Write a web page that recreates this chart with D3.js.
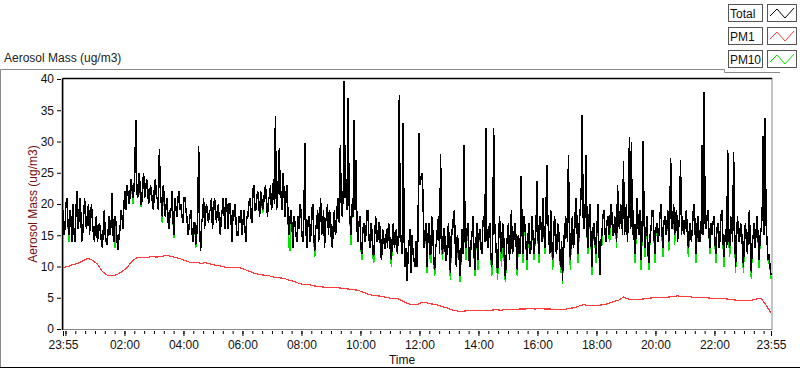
<!DOCTYPE html>
<html>
<head>
<meta charset="utf-8">
<script src="https://cdn.jsdelivr.net/npm/d3@7"></script>
<style>
  body { margin: 0; background: #fff; }
  svg { display: block; font-family: "Liberation Sans", Arial, sans-serif; }
</style>
</head>
<body>
<svg id="chart" width="800" height="369"></svg>
<script>
// minutes since 23:55: one value every 2 min for Total / PM10, every 10 min for PM1
const stepTotal = 2;
const stepPM1 = 10;

// one row per hour (30 values)
const totalValues = [
  19, 15, 16, 20, 21, 17, 15, 19, 18, 14, 20, 16, 14, 18, 22, 16, 17, 21, 19, 14, 15, 18, 21, 17, 16, 19, 20, 15, 18, 20,
  17, 15, 14, 17, 18, 14, 15, 17, 16, 14, 13, 16, 19, 15, 14, 13.5, 16, 18, 15, 17, 21.7, 15, 14, 18, 17, 14, 12.6, 15, 16, 19,
  18, 16, 20, 22, 19, 23, 22, 20, 21, 24, 23, 21, 22, 25, 33.5, 22, 21, 25, 24, 20, 20, 23, 25, 21, 22, 24, 23, 20, 21, 23,
  22, 20, 19, 23, 24, 21, 21, 19, 28.8, 22, 20, 18, 23, 21, 18, 20, 21, 17, 16, 19, 19, 22, 17, 15, 21, 19, 18, 21, 22, 19,
  20, 18, 17, 21, 21, 19, 18, 15, 16, 18, 19, 16, 14, 17, 17, 13.5, 15, 18, 29.3, 16, 12.5, 17, 18, 21, 16, 19, 20, 18, 17, 19,
  19, 21, 16, 18, 21, 20, 17, 19, 20, 17, 15, 18, 19, 21, 18, 16, 21, 19, 16, 20, 20, 17, 14, 19, 18, 20, 17, 15, 15, 18,
  17, 19, 15, 17, 19, 16, 14, 18, 18, 20, 21, 18, 17, 22, 23, 19, 19, 21, 22, 20, 18, 22, 21, 19, 20, 22, 23, 20, 18, 21,
  21, 23, 19, 20, 24, 20, 34, 19, 20, 24, 29, 21, 22, 19, 25, 21, 18, 22, 23, 17, 15, 18, 19, 16, 13, 18, 17, 15, 14, 18,
  16, 20, 19, 15, 14, 18, 29.8, 16, 13, 17, 18, 14, 15, 19, 20, 15, 12.5, 16, 17, 19, 14, 17, 21, 15, 16, 19, 13, 17, 18, 20,
  15, 19, 18, 14, 13, 17, 19, 15, 16, 20, 21, 17, 29.5, 20, 18, 22, 39.7, 21, 24, 19, 37, 20, 17, 15, 20, 18, 33.4, 19, 27, 16,
  14, 17, 18, 13, 12, 16, 17, 14, 15, 19, 19, 15, 13, 17, 16, 12, 11.7, 15, 18, 14, 14, 17, 17, 12, 11, 16, 15, 13, 13, 16,
  13, 17, 16, 12, 11, 15, 17, 13, 14, 16, 12, 15, 37.5, 14, 15, 12, 33, 14, 10, 13, 7.7, 12, 14, 16, 9, 15, 12, 11, 10, 14,
  10, 15, 31.4, 23, 24, 25, 22, 13, 15, 17, 10, 14, 17, 12, 12, 18, 16, 11, 9.5, 13, 14, 17, 18, 12, 28, 14, 12, 16, 16, 11,
  11, 14, 17, 12, 9, 16, 15, 18, 19, 13, 10, 15, 14, 11, 8.5, 13, 16, 12, 29.4, 14, 13, 16, 17, 11, 10, 14, 15, 18, 12, 9.5,
  14, 17, 11, 15, 16, 13, 12, 17, 18, 14, 32.2, 15, 13, 16, 17, 12, 10, 14, 32.2, 17, 14, 11, 9, 15, 18, 13, 12, 17, 16, 10,
  8, 13, 15, 17, 11, 14, 19, 12, 13, 16, 17, 13, 9.5, 15, 14, 12, 24.5, 15, 12, 18, 16, 13, 11, 15, 17, 12, 13, 18, 15, 12,
  14, 16, 23.6, 15, 12, 18, 17, 14, 21, 16, 13, 17, 26.2, 18, 15, 12, 19, 14, 11, 16, 18, 13, 12, 17, 16, 13, 10, 14, 7.7, 15,
  13, 18, 17, 14, 27.8, 15, 11, 16, 18, 13, 14, 19, 21, 15, 12, 17, 19, 22, 34.3, 18, 16, 19, 27.8, 15, 13, 18, 20, 14, 10, 16,
  17, 14, 12, 16, 20, 13, 8.6, 14, 15, 18, 19, 16, 14, 17, 18, 15, 16, 20, 19, 15, 15, 18, 17, 14, 23, 17, 16, 20, 19, 15,
  26.9, 15, 17, 20, 14, 18, 30.7, 16, 29.9, 15, 19, 14, 12, 17, 21, 16, 15, 19, 11, 16, 30, 17, 13, 16, 18, 12, 10.5, 15, 16, 19,
  19, 15, 12, 16, 17, 14, 15, 18, 20, 16, 13, 17, 18, 15, 16, 19, 14, 17, 27.4, 16, 17, 20, 15, 18, 19, 14, 16, 18, 27, 15,
  18, 16, 15, 18, 19, 15, 13, 16, 17, 14, 16, 19, 20, 15, 12, 17, 18, 14, 14, 16, 29.4, 15, 37.9, 17, 16, 18, 19, 15, 13, 17,
  15, 17, 18, 14, 12, 16, 17, 13, 14, 18, 19, 15, 11.5, 14, 16, 13, 28.6, 15, 13, 18, 17, 14, 28.3, 16, 10, 15, 18, 14, 14, 17,
  16, 13, 10, 15, 17, 14, 12, 16, 19, 13, 9, 14, 15, 17, 13, 16, 18, 14, 11, 15, 16, 18, 30.9, 15, 33.8, 17, 14, 11, 12, 10,
  8.6
];

const pm10Values = [
  19, 15, 16, 20, 21, 17, 14, 19, 18, 14, 20, 16, 14, 18, 22, 16, 17, 21, 19, 14, 15, 18, 21, 17, 16, 19, 20, 15, 18, 20,
  17, 15, 14, 17, 18, 14, 15, 17, 16, 14, 13, 16, 19, 15, 14, 13.5, 16, 18, 15, 17, 21.7, 15, 14, 13, 17, 14, 12.6, 15, 16, 19,
  18, 16, 20, 22, 19, 23, 22, 20, 21, 24, 23, 20, 22, 25, 33.5, 22, 21, 25, 24, 19.5, 20, 23, 25, 21, 22, 24, 23, 20, 21, 23,
  22, 20, 19, 23, 24, 21, 21, 19, 28.8, 22, 20, 17, 23, 21, 18, 20, 21, 17, 16, 19, 19, 22, 17, 14.5, 21, 19, 18, 21, 22, 19,
  20, 18, 17, 21, 21, 19, 18, 15, 16, 18, 19, 16, 14, 17, 17, 13, 15, 18, 29.3, 16, 12.5, 17, 18, 21, 16, 19, 20, 18, 17, 19,
  19, 21, 16, 18, 21, 20, 17, 19, 20, 17, 15, 18, 19, 21, 18, 16, 21, 19, 16, 20, 20, 17, 14, 19, 18, 20, 17, 15, 15, 18,
  17, 19, 15, 17, 19, 16, 14, 18, 18, 20, 21, 18, 17, 22, 23, 19, 19, 21, 22, 20, 18, 22, 21, 18.5, 20, 22, 23, 20, 18, 21,
  21, 23, 19, 20, 24, 20, 34, 19, 20, 24, 29, 21, 22, 19, 25, 21, 18, 22, 23, 17, 13, 12.5, 19, 16, 13, 18, 17, 15, 14, 18,
  16, 20, 19, 15, 14, 18, 29.8, 16, 13, 17, 18, 14, 15, 19, 20, 15, 11.5, 16, 17, 19, 14, 17, 21, 15, 16, 19, 13, 17, 18, 20,
  15, 19, 18, 14, 13, 17, 19, 15, 16, 20, 21, 17, 29.5, 20, 18, 22, 39.7, 21, 24, 19, 37, 20, 17, 13.5, 20, 18, 33.4, 19, 27, 16,
  14, 17, 18, 13, 11, 16, 17, 14, 15, 19, 19, 15, 13, 17, 16, 12, 10.5, 15, 18, 14, 14, 17, 17, 12, 11, 16, 15, 13, 13, 16,
  13, 17, 16, 12, 10, 15, 17, 13, 14, 16, 12, 15, 37.5, 14, 15, 12, 33, 14, 10, 11.5, 7.7, 12, 14, 16, 9, 15, 12, 11, 10, 14,
  10, 15, 31.4, 23, 24, 25, 22, 13, 15, 17, 9, 14, 17, 12, 10.5, 18, 16, 11, 8.5, 13, 14, 17, 18, 12, 28, 14, 11, 16, 16, 11,
  11, 14, 17, 12, 7.8, 16, 15, 18, 19, 13, 10, 13, 14, 11, 7.5, 13, 16, 12, 29.4, 14, 11, 16, 17, 11, 10, 14, 15, 18, 12, 8.5,
  14, 17, 9.5, 15, 16, 13, 12, 17, 18, 14, 32.2, 15, 13, 16, 17, 12, 8.5, 14, 32.2, 17, 14, 11, 7.8, 15, 18, 13, 10, 17, 16, 9,
  7.5, 13, 15, 17, 11, 14, 19, 12, 13, 16, 17, 13, 8.5, 15, 14, 12, 24.5, 15, 10.5, 18, 16, 13, 9.5, 15, 17, 12, 13, 18, 15, 11,
  14, 16, 23.6, 15, 10.5, 18, 17, 14, 21, 16, 12, 17, 26.2, 18, 15, 12, 19, 14, 9.5, 16, 18, 13, 12, 17, 16, 13, 9, 14, 7.2, 15,
  13, 18, 17, 14, 27.8, 15, 9.5, 16, 18, 13, 14, 19, 21, 15, 10.5, 17, 19, 22, 34.3, 18, 16, 19, 27.8, 15, 12, 18, 20, 14, 8.6, 16,
  17, 14, 10.5, 16, 20, 13, 8.6, 14, 13.5, 18, 19, 16, 14, 17, 18, 15, 14, 20, 19, 15, 15, 18, 17, 13, 23, 17, 16, 20, 19, 15,
  26.9, 15, 17, 20, 14, 18, 30.7, 16, 29.9, 15, 19, 14, 10.5, 17, 21, 16, 15, 19, 9.5, 16, 30, 17, 11.5, 16, 18, 12, 9.5, 15, 16, 19,
  19, 15, 10.5, 16, 17, 14, 15, 18, 20, 16, 11.5, 17, 18, 15, 16, 19, 12.5, 17, 27.4, 16, 17, 20, 13.5, 18, 19, 14, 16, 18, 27, 15,
  18, 16, 15, 18, 19, 15, 11.5, 16, 17, 14, 16, 19, 20, 15, 10.5, 17, 18, 14, 14, 16, 29.4, 15, 37.9, 17, 16, 18, 19, 15, 12, 17,
  15, 17, 18, 14, 10.5, 16, 17, 13, 14, 18, 19, 15, 10, 14, 16, 13, 28.6, 15, 11.5, 18, 17, 14, 28.3, 16, 9, 15, 18, 14, 14, 17,
  16, 13, 9, 15, 17, 14, 12, 16, 19, 13, 8, 14, 15, 17, 13, 16, 18, 14, 9.8, 15, 16, 18, 30.9, 15, 33.8, 17, 14, 11, 10.5, 10,
  8
];

const pm1Values = [
  9.8, 10.0, 10.3, 10.5, 10.9, 11.3, 11.0, 10.4, 9.2, 8.6, 8.5, 8.7,
  9.2, 9.8, 10.8, 11.4, 11.5, 11.4, 11.6, 11.5, 11.6, 11.8, 11.6, 11.4,
  11.2, 10.9, 10.6, 10.7, 10.5, 10.6, 10.4, 10.2, 10.1, 9.9, 9.8, 9.9,
  9.8, 9.5, 9.2, 8.9, 8.7, 8.6, 8.5, 8.3, 8.2, 8.1, 7.8, 7.6,
  7.3, 7.1, 7.1, 6.9, 6.8, 6.7, 6.7, 6.6, 6.6, 6.5, 6.4, 6.3,
  6.2, 5.9, 5.6, 5.4, 5.3, 5.2, 5.0, 4.9, 4.9, 4.5, 4.1, 3.9,
  3.9, 4.3, 4.2, 4.0, 3.9, 3.6, 3.4, 3.1, 2.9, 2.8, 2.9, 2.9,
  2.9, 2.9, 3.0, 3.0, 3.1, 3.0, 3.1, 3.1, 3.1, 3.2, 3.2, 3.3,
  3.2, 3.3, 3.2, 3.2, 3.1, 3.1, 3.1, 3.3, 3.4, 3.7, 3.9, 3.7,
  3.7, 3.8, 3.9, 4.1, 4.4, 4.6, 5.1, 4.8, 4.7, 4.7, 4.8, 4.9,
  5.0, 5.0, 5.1, 5.1, 5.2, 5.3, 5.2, 5.2, 5.1, 5.0, 5.0, 5.0,
  4.9, 4.9, 4.9, 4.8, 4.7, 4.6, 4.5, 4.5, 4.6, 4.8, 4.9, 3.8,
  2.6
];

// axis ticks (minutes since 23:55)
const xTickMinutes = [0, 125, 245, 365, 485, 605, 725, 845, 965, 1085, 1205, 1325, 1440];
const xTickLabels = ["23:55", "02:00", "04:00", "06:00", "08:00", "10:00", "12:00",
                     "14:00", "16:00", "18:00", "20:00", "22:00", "23:55"];
const yTicks = [0, 5, 10, 15, 20, 25, 30, 35, 40];

const seriesNames = ["Total", "PM1", "PM10"];
const seriesColors = ["#000000", "#ff3c3c", "#00e400"];

// --- layout ---
const svg = d3.select("#chart");
const plot = { left: 63, right: 772, top: 78.5, bottom: 329.5 };

const x = d3.scaleLinear().domain([0, 1440]).range([63, 771]);
const y = d3.scaleLinear().domain([0, 40]).range([329, 79]);

// outer frame
svg.append("path")
  .attr("d", "M0.5,367 V69.5 H724.5 V72.5 H780")
  .attr("fill", "none").attr("stroke", "#8a8a8a");
svg.append("line").attr("x1", 0).attr("x2", 800).attr("y1", 367.5).attr("y2", 367.5)
  .attr("stroke", "#000");

svg.append("text").attr("x", 4).attr("y", 62)
  .style("font-size", "12px").style("fill", "#222")
  .text("Aerosol Mass (ug/m3)");

// plot box
svg.append("rect")
  .attr("x", plot.left).attr("y", plot.top)
  .attr("width", plot.right - plot.left).attr("height", plot.bottom - plot.top)
  .attr("fill", "#fff").attr("stroke", "#8a8a8a");
svg.append("line").attr("x1", plot.left - 0.5).attr("x2", plot.right)
  .attr("y1", plot.top).attr("y2", plot.top).attr("stroke", "#000").attr("stroke-width", 1.5);
svg.append("line").attr("x1", plot.left - 0.5).attr("x2", plot.left - 0.5)
  .attr("y1", plot.top).attr("y2", plot.bottom + 0.5).attr("stroke", "#000").attr("stroke-width", 1.5);

// y axis
const yAxis = svg.append("g")
  .attr("transform", "translate(61,0)")
  .call(d3.axisLeft(y).tickValues(yTicks).tickSize(4).tickPadding(3));
yAxis.select(".domain").remove();
yAxis.selectAll("text").style("font-size", "12px").style("fill", "#111")
  .style("font-family", "Liberation Sans, Arial, sans-serif");

svg.append("text")
  .attr("transform", "translate(37,204) rotate(-90)")
  .attr("text-anchor", "middle")
  .style("font-size", "12px").style("fill", "#7a1010")
  .text("Aerosol Mass (ug/m3)");

// x axis: minor ticks every 20 min from 00:00, majors every 2 h
const minorTicks = d3.range(5, 1440, 20);
const gMinor = svg.append("g").attr("transform", "translate(0,331)")
  .call(d3.axisBottom(x).tickValues(minorTicks).tickSize(3).tickFormat(""));
gMinor.select(".domain").remove();

const gx = svg.append("g").attr("transform", "translate(0,331)")
  .call(d3.axisBottom(x).tickValues(xTickMinutes.concat([5])).tickSize(5).tickPadding(4)
    .tickFormat(d => { const i = xTickMinutes.indexOf(d); return i < 0 ? "" : xTickLabels[i]; }));
gx.select(".domain").remove();
gx.selectAll("text").style("font-size", "12px").style("fill", "#111")
  .style("font-family", "Liberation Sans, Arial, sans-serif");

svg.append("text").attr("x", 402).attr("y", 364)
  .attr("text-anchor", "middle")
  .style("font-size", "12px").style("fill", "#111")
  .text("Time");

// series (aliased like the original instrument plot)
const lineTotal = d3.line().x((d, i) => x(i * stepTotal)).y(d => y(d));
const linePM1 = d3.line().x((d, i) => x(i * stepPM1)).y(d => y(d));

const gData = svg.append("g").style("shape-rendering", "crispEdges");
gData.append("path").datum(pm10Values).attr("d", lineTotal)
  .attr("fill", "none").attr("stroke", seriesColors[2]).attr("stroke-width", 1.5);
gData.append("path").datum(totalValues).attr("d", lineTotal)
  .attr("fill", "none").attr("stroke", seriesColors[0]).attr("stroke-width", 1.5);
gData.append("path").datum(pm1Values).attr("d", linePM1)
  .attr("fill", "none").attr("stroke", seriesColors[1]).attr("stroke-width", 1.2);

// legend
const legend = svg.append("g");
seriesNames.forEach((name, i) => {
  const top = 4 + i * 23;
  legend.append("rect").attr("x", 728.5).attr("y", top + 0.5).attr("width", 34).attr("height", 17)
    .attr("fill", "#fff").attr("stroke", "#555");
  legend.append("text").attr("x", 730).attr("y", top + 14)
    .style("font-size", "12px").style("fill", "#111")
    .attr("textLength", name === "PM10" ? 31 : null)
    .text(name);
  legend.append("rect").attr("x", 767.5).attr("y", top + 0.5).attr("width", 29).attr("height", 17)
    .attr("fill", "#fff").attr("stroke", "#555");
  legend.append("polyline")
    .attr("points", [[770, top + 12], [777, top + 5], [785, top + 14], [794, top + 4]].map(p => p.join(",")).join(" "))
    .attr("fill", "none").attr("stroke", seriesColors[i]).attr("stroke-width", 1);
});
</script>
</body>
</html>
